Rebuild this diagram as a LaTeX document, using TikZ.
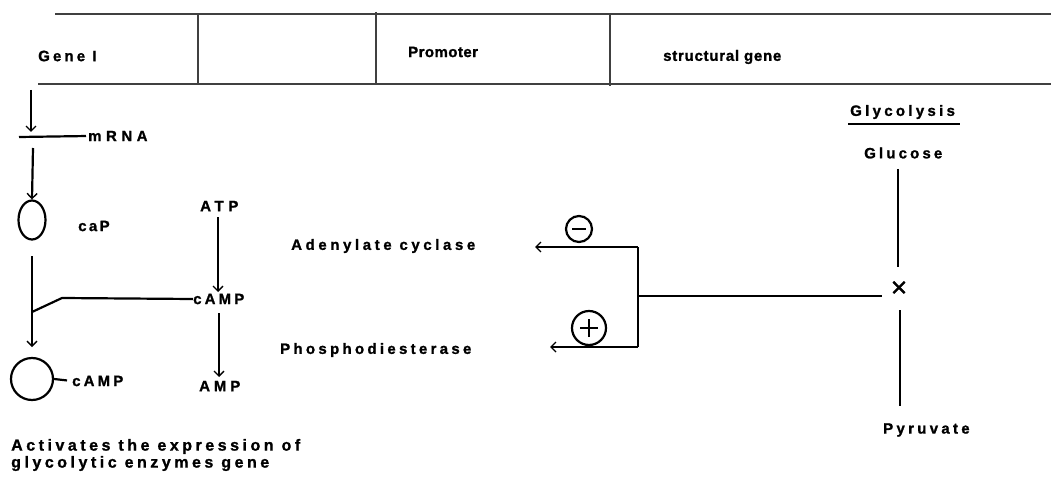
\documentclass[tikz,border=0pt]{standalone}
\usepackage{fontspec}
\setmainfont{Liberation Sans}
\usetikzlibrary{arrows.meta,shapes.geometric}
\begin{document}
\begin{tikzpicture}[x=1pt,y=-1pt,
  labs/.style={font=\fontsize{15}{17}\selectfont\bfseries\addfontfeature{LetterSpace=#1,FakeBold=1.2}, inner sep=0pt},
  lab/.style={labs=22},
  tline/.style={line width=1.4pt, draw=black!75},
  conn/.style={line width=2.2pt},
  thin/.style={line width=1.1pt},
  outl/.style={draw, line width=2.2pt, inner sep=0pt},
  arr/.style={conn, -{Straight Barb[length=5pt,width=10pt,line width=1.4pt]}},
]
\useasboundingbox (0,0) rectangle (1051,481);
% table
\draw[tline] (55,14) -- (1051,14);
\draw[tline] (38,84) -- (1051,84);
\draw[tline] (198,14) -- (198,84);
\draw[tline] (376,12) -- (376,83);
\draw[tline] (610,14) -- (610,86);
\node[labs=21, anchor=west] (gene) at (38,56) {Gene I};
\node[labs=3, anchor=west] (prom) at (408,52) {Promoter};
\node[labs=5, anchor=west] (struct) at (663,57) {structural gene};
% left pathway
\coordinate (g1) at (31,90);
\coordinate (g2) at (31,132);
\draw[arr] (g1) -- (g2);
\node[labs=30, anchor=west] (mrna) at (88,136) {mRNA};
\coordinate (m0) at (19,137);
\draw[conn, shorten >=2pt] (m0) -- (mrna.west);
\node[outl, ellipse, minimum width=27pt, minimum height=39pt] (capc) at (32,220) {};
\node[labs=16, anchor=west] (cap) at (78,226) {caP};
\coordinate (m1) at (33,148);
\draw[arr] (m1) -- (capc.north);
\node[outl, circle, minimum size=42pt] (c2) at (32,379) {};
\coordinate (v1) at (32,256);
\coordinate (v2) at (32,347);
\draw[arr] (v1) -- (v2);
\node[labs=21, anchor=west] (camp2) at (72,381) {cAMP};
\draw[conn, shorten >=5pt] (c2.east) -- (camp2.west);
\node[labs=21, anchor=west] (camp1) at (193,299) {cAMP};
\coordinate (b1) at (32,312);
\coordinate (b2) at (62,298);
\draw[conn] (b1) -- (b2) -- (camp1.west);
\node[labs=31, anchor=west] (atp) at (200,206) {ATP};
\node[labs=26, anchor=west] (amp) at (199,386) {AMP};
\coordinate (a1) at (218,217);
\coordinate (a2) at (218,292);
\coordinate (a3) at (219,313);
\coordinate (a4) at (219,377);
\draw[arr] (a1) -- (a2);
\draw[arr] (a3) -- (a4);
\node[labs=24, anchor=west] (aden) at (291,246) {Adenylate cyclase};
\node[labs=22, anchor=west] (phos) at (280,350) {Phosphodiesterase};
% regulation bracket
\coordinate (rt) at (638,247);
\coordinate (rb) at (638,347);
\coordinate (rm) at (638,296);
\coordinate (at) at (535,247);
\coordinate (ab) at (550,347);
\draw[conn] (rt) -- (rb);
\draw[arr] (rt) -- (at);
\draw[arr] (rb) -- (ab);
\node[outl, circle, minimum size=26pt] (minus) at (579,229) {};
\draw[line width=1.8pt] ([xshift=-7]minus.center) -- ([xshift=7]minus.center);
\node[outl, circle, minimum size=34pt] (plus) at (589,328) {};
\draw[line width=1.8pt] ([xshift=-9]plus.center) -- ([xshift=9]plus.center);
\draw[line width=1.8pt] ([yshift=-9]plus.center) -- ([yshift=9]plus.center);
% glycolysis
\node[labs=22, anchor=west] (glyco) at (850,112) {Glycolysis};
\draw[line width=1.8pt] (848,124) -- (960,124);
\node[labs=21, anchor=west] (gluc) at (864,153) {Glucose};
\node[font=\fontsize{28}{28}\selectfont\addfontfeature{FakeBold=1}, inner sep=0pt] (cross) at (899,289) {×};
\node[labs=22, anchor=west] (pyr) at (883,430) {Pyruvate};
\draw[thin] (898,169) -- (898,267);
\draw[thin] (900,310) -- (900,406);
\coordinate (xl) at (882,296);
\draw[conn] (rm) -- (xl);
% bottom text
\node[anchor=west, align=left, inner sep=0pt, font=\fontsize{16}{17}\selectfont\bfseries\addfontfeature{LetterSpace=22,FakeBold=1.2}] (act) at (11,455) {Activates the expression of\\glycolytic enzymes gene};
\end{tikzpicture}
\end{document}
